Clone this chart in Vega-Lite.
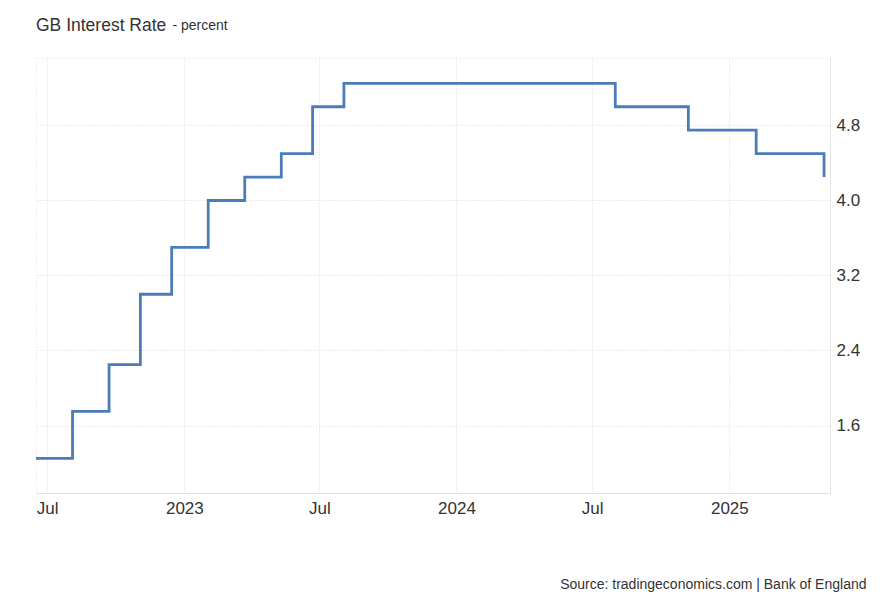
{
  "$schema": "https://vega.github.io/schema/vega-lite/v6.json",
  "autosize": {"type": "none"},
  "width": 794,
  "height": 435,
  "padding": {"left": 36, "top": 58, "right": 52, "bottom": 110},
  "background": "white",
  "config": {
    "font": "Liberation Sans",
    "view": {"stroke": "#e2e2e2", "strokeDash": [1, 2], "strokeWidth": 1}
  },
  "title": {
    "text": "GB Interest Rate",
    "anchor": "start",
    "frame": "group",
    "fontSize": 17.5,
    "fontWeight": "normal",
    "color": "#333333",
    "baseline": "alphabetic",
    "offset": -30
  },
  "data": {
    "values": [
      {"date": "2022-06-16", "rate": 1.25},
      {"date": "2022-08-04", "rate": 1.75},
      {"date": "2022-09-22", "rate": 2.25},
      {"date": "2022-11-03", "rate": 3.0},
      {"date": "2022-12-15", "rate": 3.5},
      {"date": "2023-02-02", "rate": 4.0},
      {"date": "2023-03-23", "rate": 4.25},
      {"date": "2023-05-11", "rate": 4.5},
      {"date": "2023-06-22", "rate": 5.0},
      {"date": "2023-08-03", "rate": 5.25},
      {"date": "2024-08-01", "rate": 5.0},
      {"date": "2024-11-07", "rate": 4.75},
      {"date": "2025-02-06", "rate": 4.5},
      {"date": "2025-05-08", "rate": 4.25}
    ]
  },
  "mark": {"type": "line", "interpolate": "step-after", "color": "#4b7cb8", "strokeWidth": 2.8, "clip": true},
  "encoding": {
    "x": {
      "field": "date",
      "type": "temporal",
      "scale": {
        "type": "utc",
        "domain": [
          {"year": 2022, "month": 6, "date": 16, "utc": true},
          {"year": 2025, "month": 5, "date": 16, "utc": true}
        ]
      },
      "axis": {
        "values": [
          {"year": 2022, "month": 7, "date": 1, "utc": true},
          {"year": 2023, "month": 1, "date": 1, "utc": true},
          {"year": 2023, "month": 7, "date": 1, "utc": true},
          {"year": 2024, "month": 1, "date": 1, "utc": true},
          {"year": 2024, "month": 7, "date": 1, "utc": true},
          {"year": 2025, "month": 1, "date": 1, "utc": true}
        ],
        "labelExpr": "utcmonth(datum.value) == 0 ? utcFormat(datum.value, '%Y') : utcFormat(datum.value, '%b')",
        "labelFontSize": 17,
        "labelColor": "#333333",
        "labelPadding": 7,
        "labelFlush": false,
        "ticks": false,
        "domain": true,
        "domainColor": "#e2e2e2",
        "domainWidth": 1,
        "grid": true,
        "gridColor": "#d9d9d9",
        "gridDash": [1, 2],
        "gridWidth": 1,
        "title": "Source: tradingeconomics.com | Bank of England",
        "titleFontSize": 14,
        "titleFontWeight": "normal",
        "titleColor": "#333333",
        "titleAlign": "right",
        "titleAnchor": "end",
        "titleBaseline": "alphabetic",
        "titleX": 830,
        "titleY": 95
      }
    },
    "y": {
      "field": "rate",
      "type": "quantitative",
      "scale": {"domain": [0.88, 5.52], "zero": false, "nice": false},
      "axis": {
        "orient": "right",
        "values": [1.6, 2.4, 3.2, 4.0, 4.8],
        "format": ".1f",
        "labelFontSize": 17,
        "labelColor": "#333333",
        "labelPadding": 6,
        "ticks": false,
        "domain": true,
        "domainColor": "#e2e2e2",
        "domainWidth": 1,
        "grid": true,
        "gridColor": "#d9d9d9",
        "gridDash": [1, 2],
        "gridWidth": 1,
        "title": "- percent",
        "titleAngle": 0,
        "titleFontSize": 14,
        "titleFontWeight": "normal",
        "titleColor": "#333333",
        "titleAlign": "left",
        "titleBaseline": "alphabetic",
        "titleX": -658,
        "titleY": -29
      }
    }
  }
}
